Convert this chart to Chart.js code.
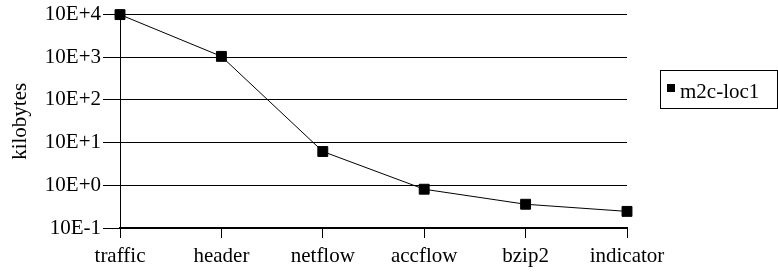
<!DOCTYPE html>
<html>
<head>
<meta charset="utf-8">
<script src="https://cdn.jsdelivr.net/npm/chart.js@4/dist/chart.umd.min.js"></script>
<style>
  html, body { margin: 0; padding: 0; background: #fff; }
  #wrap { position: relative; width: 778px; height: 276px; }
</style>
</head>
<body>
<div id="wrap"><canvas id="chart"></canvas></div>
<script>
// kilobytes per stage, log scale
const categories = ['traffic', 'header', 'netflow', 'accflow', 'bzip2', 'indicator'];
const m2cLoc1 = [10000, 1050, 6.2, 0.81, 0.36, 0.245];
const yTickValues = [0.1, 1, 10, 100, 1000, 10000];
const yTickLabels = ['10E-1', '10E+0', '10E+1', '10E+2', '10E+3', '10E+4'];

const FONT = { family: '"Liberation Serif", "Times New Roman", serif', size: 21 };

// boxed legend at the right, like the original spreadsheet chart
const boxedLegend = {
  id: 'boxedLegend',
  afterDraw(chart) {
    const ctx = chart.ctx;
    const ds = chart.data.datasets[0];
    ctx.save();
    ctx.strokeStyle = '#000';
    ctx.lineWidth = 1;
    ctx.strokeRect(660.5, 70.5, 117, 38);
    ctx.fillStyle = '#000';
    ctx.fillRect(667, 84, 8, 8);
    ctx.font = `${FONT.size}px ${FONT.family}`;
    ctx.textBaseline = 'alphabetic';
    ctx.fillText(ds.label, 680, 98);
    ctx.restore();
  },
};

new Chart(document.getElementById('chart'), {
  type: 'line',
  data: {
    labels: categories,
    datasets: [{
      label: 'm2c-loc1',
      data: m2cLoc1,
      borderColor: '#000',
      borderWidth: 1,
      backgroundColor: '#000',
      pointStyle: 'rect',
      pointRadius: 7,
      pointHoverRadius: 7,
      tension: 0,
      clip: false,
    }],
  },
  options: {
    responsive: true,
    maintainAspectRatio: false,
    animation: false,
    events: [],
    layout: { padding: { top: 13, right: 151, bottom: 0, left: 0 } },
    scales: {
      x: {
        offset: false,
        grid: { drawOnChartArea: false, drawTicks: true, tickLength: 10, color: '#000', lineWidth: 1 },
        border: { color: '#000', width: 2 },
        ticks: { color: '#000', font: FONT, padding: 6, maxRotation: 0, autoSkip: false },
        afterFit: (scale) => { scale.height = 48; },
      },
      y: {
        type: 'logarithmic',
        min: 0.1,
        max: 10000,
        grid: { color: '#000', lineWidth: 1, drawTicks: true, tickLength: 17 },
        border: { color: '#000', width: 1 },
        ticks: {
          color: '#000',
          font: FONT,
          padding: 2,
          callback: (v) => {
            const i = yTickValues.findIndex((t) => Math.abs(Math.log10(t) - Math.log10(v)) < 1e-6);
            return i >= 0 ? yTickLabels[i] : '';
          },
        },
        afterBuildTicks: (scale) => { scale.ticks = yTickValues.map((v) => ({ value: v })); },
        afterFit: (scale) => { scale.width = 120; },
        title: { display: true, text: 'kilobytes', color: '#000', font: FONT, padding: { top: 8, bottom: 0 } },
      },
    },
    plugins: {
      legend: { display: false },
      tooltip: { enabled: false },
    },
  },
  plugins: [boxedLegend],
});
</script>
</body>
</html>
